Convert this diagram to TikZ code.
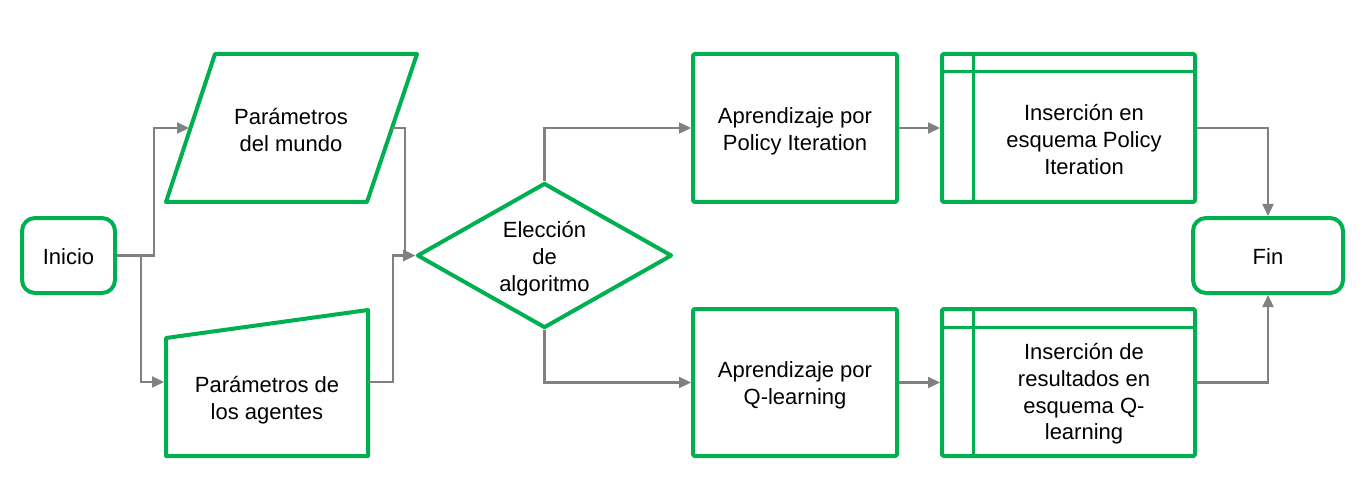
\documentclass[tikz,border=0pt]{standalone}
\usepackage{fontspec}
\setmainfont{Liberation Sans}
\usetikzlibrary{arrows.meta,shapes.geometric}
\definecolor{gr}{RGB}{0,176,80}
\definecolor{cn}{RGB}{128,128,128}
\begin{document}
\begin{tikzpicture}[x=1pt,y=-1pt,
  shp/.style={draw=gr,line width=4pt,line join=round},
  inner/.style={draw=gr,line width=3pt},
  txt/.style={align=center,font=\fontsize{22}{26.7}\selectfont,inner sep=0pt},
  term/.style={shp,rounded corners=13pt,minimum width=93pt,minimum height=75pt,inner sep=0pt},
  boxn/.style={shp,rounded corners=1.5pt,minimum width=204pt,minimum height=148pt,inner sep=0pt},
  insbox/.style={shp,rounded corners=1.5pt,minimum width=253pt,minimum height=148pt,inner sep=0pt},
  conn/.style={draw=cn,line width=2.2pt,-{Triangle[length=12pt,width=11pt]}},
]
\useasboundingbox (0,0) rectangle (1370,481);

% Inicio
\node[term] (inicio) at (68.5,255.5) {};
\node[txt] (iniciot) at (68.5,256.5) {Inicio};

% Parametros del mundo (parallelogram)
\draw[shp] (215,54) -- (417,54) -- (367,202) -- (166,202) -- cycle;
\node[txt] (mundo) at (291,130) {Parámetros\\del mundo};
\coordinate (mundoin) at (189,128);
\coordinate (mundoout) at (392,128);

% Parametros de los agentes (manual input)
\draw[shp] (166,338) -- (368,310) -- (368,456) -- (166,456) -- cycle;
\node[txt] (agentes) at (267,400) {Parámetros de\\los agentes};
\coordinate (agin) at (164,382);
\coordinate (agout) at (368,382);

% Decision
\node[shp,diamond,minimum width=255pt,minimum height=145pt,inner sep=0pt] (elec) at (544.5,255.5) {};
\node[txt] (elect) at (544.5,258.5) {Elección\\de\\algoritmo};

% Learning boxes
\node[boxn] (ap1) at (795,128) {};
\node[txt] (ap1t) at (795,131) {Aprendizaje por\\Policy Iteration};
\node[boxn,minimum height=147pt] (ap2) at (795,382.5) {};
\node[txt] (ap2t) at (795,385.5) {Aprendizaje por\\Q-learning};

% Insertion boxes
\node[insbox] (ins1) at (1068.5,128) {};
\draw[inner] (942,72) -- (1195,72);
\draw[inner] (973,54) -- (973,202);
\node[txt] (ins1t) at (1084,139.5) {Inserción en\\esquema Policy\\Iteration};

\node[insbox,minimum height=147pt] (ins2) at (1068.5,382.5) {};
\draw[inner] (942,327) -- (1195,327);
\draw[inner] (973,309) -- (973,456);
\node[txt] (ins2t) at (1084,394) {Inserción de\\resultados en\\esquema Q-\\learning};

% Fin
\node[term,minimum width=150pt] (fin) at (1268,255.5) {};
\node[txt] (fint) at (1268,256.5) {Fin};

% Connectors
\draw[conn] (inicio.east) -- ++(37,0) |- (mundoin);
\draw[conn] (inicio.east) -- ++(24,0) |- (agin);
\draw[conn] (mundoout) -- ++(13,0) |- (elec.west);
\draw[conn] (agout) -- ++(25,0) |- (elec.west);
\draw[conn] (elec.north) |- (ap1.west);
\draw[conn] (elec.south) |- (ap2.west);
\draw[conn] (ap1.east) -- (ins1.west);
\draw[conn] (ap2.east) -- (ins2.west);
\draw[conn] (ins1.east) -| (fin.north);
\draw[conn] (ins2.east) -| (fin.south);
\end{tikzpicture}
\end{document}
